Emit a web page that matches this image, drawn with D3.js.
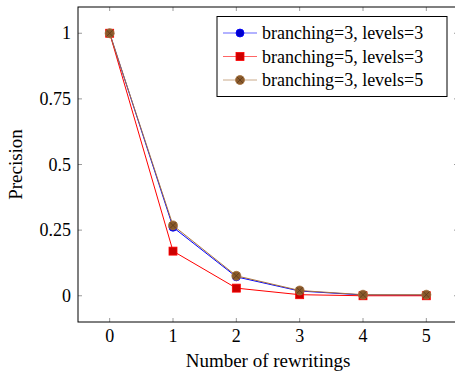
<!DOCTYPE html>
<html lang="en">
<head>
  <meta charset="UTF-8">
  <title>Precision</title>
  <style>
    body { margin: 0; background: #fff; }
  </style>
</head>
<body>
  <script src="https://cdn.jsdelivr.net/npm/d3@7"></script>
  <script>
    var width = 455;
    var height = 375;

    var rewritings = [0, 1, 2, 3, 4, 5];
    var b3l3 = [1, 0.261, 0.072, 0.018, 0.003, 0.002];
    var b5l3 = [1, 0.17, 0.029, 0.004, 0.0, 0.0];
    var b3l5 = [1, 0.268, 0.076, 0.02, 0.004, 0.004];
    var xTicks = [0, 1, 2, 3, 4, 5];
    var yTicks = [0, 0.25, 0.5, 0.75, 1];
    var yTickLabels = ["0", "0.25", "0.5", "0.75", "1"];

    var series = [
      { name: "branching=3, levels=3", values: b3l3, color: "#0000ff", fill: "#0000cc", mark: "circle" },
      { name: "branching=5, levels=3", values: b5l3, color: "#ff0000", fill: "#cc0000", mark: "square" },
      { name: "branching=3, levels=5", values: b3l5, color: "#a8743e", fill: "#8a5a2c", mark: "otimes" }
    ];

    var plotLeft = 78, plotRight = 458, plotTop = 7, plotBottom = 322;

    var x = d3.scaleLinear().domain([-0.5, 5.5]).range([plotLeft, plotRight]);
    var y = d3.scaleLinear().domain([-0.1, 1.1]).range([plotBottom, plotTop]);

    var svg = d3.select("body").append("svg")
      .attr("width", width)
      .attr("height", height)
      .attr("font-family", "'Liberation Serif', 'Times New Roman', serif");

    // ticks (inward, on all sides)
    var tickG = svg.append("g").attr("stroke", "#808080").attr("stroke-width", 0.8);
    xTicks.forEach(function (t) {
      tickG.append("line").attr("x1", x(t)).attr("x2", x(t)).attr("y1", plotBottom).attr("y2", plotBottom - 4);
      tickG.append("line").attr("x1", x(t)).attr("x2", x(t)).attr("y1", plotTop).attr("y2", plotTop + 4);
    });
    yTicks.forEach(function (t) {
      tickG.append("line").attr("x1", plotLeft).attr("x2", plotLeft + 4).attr("y1", y(t)).attr("y2", y(t));
      tickG.append("line").attr("x1", plotRight).attr("x2", plotRight - 4).attr("y1", y(t)).attr("y2", y(t));
    });

    // frame
    svg.append("rect")
      .attr("x", plotLeft).attr("y", plotTop)
      .attr("width", plotRight - plotLeft).attr("height", plotBottom - plotTop)
      .attr("fill", "none").attr("stroke", "#000").attr("stroke-width", 1);

    // tick labels
    svg.append("g").selectAll("text").data(xTicks).enter().append("text")
      .attr("x", function (d) { return x(d); })
      .attr("y", 342)
      .attr("text-anchor", "middle")
      .attr("font-size", 18)
      .text(function (d) { return d; });

    svg.append("g").selectAll("text").data(yTicks).enter().append("text")
      .attr("x", 71)
      .attr("y", function (d) { return y(d) + 6; })
      .attr("text-anchor", "end")
      .attr("font-size", 18)
      .text(function (d, i) { return yTickLabels[i]; });

    // axis labels
    svg.append("text")
      .attr("x", 268).attr("y", 367)
      .attr("text-anchor", "middle")
      .attr("font-size", 19)
      .text("Number of rewritings");

    svg.append("text")
      .attr("transform", "translate(22," + (plotTop + plotBottom) / 2 + ") rotate(-90)")
      .attr("text-anchor", "middle")
      .attr("font-size", 19)
      .text("Precision");

    var line = d3.line()
      .x(function (d, i) { return x(rewritings[i]); })
      .y(function (d) { return y(d); });

    function drawMark(g, type, cx, cy, s) {
      if (type === "circle") {
        g.append("circle").attr("cx", cx).attr("cy", cy).attr("r", 4)
          .attr("fill", s.fill).attr("stroke", s.color).attr("stroke-width", 0.8);
      } else if (type === "square") {
        g.append("rect").attr("x", cx - 4).attr("y", cy - 4).attr("width", 8).attr("height", 8)
          .attr("fill", s.fill).attr("stroke", s.color).attr("stroke-width", 0.8);
      } else {
        g.append("circle").attr("cx", cx).attr("cy", cy).attr("r", 4.5)
          .attr("fill", s.fill).attr("stroke", s.color).attr("stroke-width", 0.8);
        var d = 3.2;
        g.append("path")
          .attr("d", "M" + (cx - d) + "," + (cy - d) + "L" + (cx + d) + "," + (cy + d) +
            "M" + (cx - d) + "," + (cy + d) + "L" + (cx + d) + "," + (cy - d))
          .attr("stroke", "#5a3a1a").attr("stroke-width", 0.8);
      }
    }

    series.forEach(function (s) {
      var g = svg.append("g");
      g.append("path").datum(s.values)
        .attr("d", line)
        .attr("fill", "none")
        .attr("stroke", s.color)
        .attr("stroke-width", 1);
      s.values.forEach(function (v, i) {
        drawMark(g, s.mark, x(rewritings[i]), y(v), s);
      });
    });

    // legend
    var lg = svg.append("g");
    lg.append("rect")
      .attr("x", 217).attr("y", 16.5).attr("width", 230).attr("height", 80)
      .attr("fill", "#fff").attr("stroke", "#000").attr("stroke-width", 1);
    series.forEach(function (s, i) {
      var cy = 33 + i * 23.5;
      lg.append("line").attr("x1", 223).attr("x2", 257).attr("y1", cy).attr("y2", cy)
        .attr("stroke", s.color).attr("stroke-width", 1).attr("opacity", 0.6);
      drawMark(lg, s.mark, 240, cy, s);
      lg.append("text").attr("x", 262).attr("y", cy + 6)
        .attr("font-size", 18)
        .text(s.name);
    });
  </script>
</body>
</html>
